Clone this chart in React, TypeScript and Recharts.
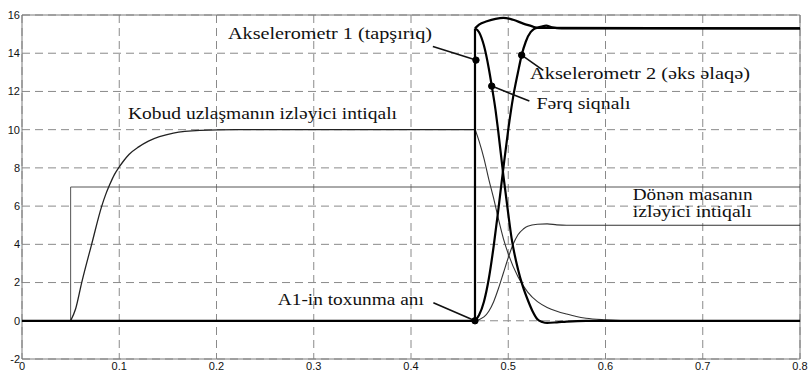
import React from 'react';
import {
  LineChart,
  Line,
  XAxis,
  YAxis,
  CartesianGrid,
  ReferenceArea,
  ReferenceDot,
  ReferenceLine,
} from 'recharts';

// ---------------------------------------------------------------------------
// Data (time, value)
// ---------------------------------------------------------------------------

type Pt = [number, number];

const X_TICKS = [0, 0.1, 0.2, 0.3, 0.4, 0.5, 0.6, 0.7, 0.8];
const Y_TICKS = [-2, 0, 2, 4, 6, 8, 10, 12, 14, 16];

// Kobud uzlaşmanın izləyici intiqalı
const kobudRise: Pt[] = [
  [0.05, 0], [0.055, 0.6], [0.0614, 2.0], [0.0716, 4.0], [0.082, 6.0], [0.086, 6.6], [0.09, 7.1],
  [0.095, 7.65], [0.1, 8.05], [0.105, 8.4], [0.11, 8.7], [0.12, 9.1], [0.13, 9.4], [0.1556, 9.82],
  [0.183, 9.96], [0.22, 10], [0.466, 10],
];
const kobudFall: Pt[] = [
  [0.466, 10], [0.47, 9.4], [0.475, 8.5], [0.48, 7.4], [0.485, 6.4], [0.49, 5.3], [0.495, 4.3],
  [0.5, 3.5], [0.51, 2.3], [0.52, 1.5], [0.53, 1.0], [0.54, 0.7], [0.55, 0.5], [0.56, 0.35],
  [0.57, 0.22], [0.58, 0.13], [0.6, 0.05], [0.63, 0], [0.8, 0],
];

// reference step at 7
const step7: Pt[] = [[0.05, 0], [0.05, 7], [0.8, 7]];

// Akselerometr 1 (tapşırıq)
const a1Step: Pt[] = [[0, 0], [0.4658, 0], [0.4658, 15.3]];
const a1Top: Pt[] = [
  [0.4658, 15.3], [0.47, 15.5], [0.478, 15.67], [0.487, 15.8], [0.495, 15.85], [0.505, 15.75],
  [0.5155, 15.55], [0.524, 15.42], [0.529, 15.34], [0.534, 15.4], [0.539, 15.44], [0.545, 15.35],
  [0.555, 15.3], [0.8, 15.3],
];

// Akselerometr 2 (əks əlaqə)
const a2: Pt[] = [
  [0.4658, 0], [0.47, 0.3], [0.475, 1.0], [0.48, 2.2], [0.485, 3.9], [0.49, 5.9], [0.495, 8.0],
  [0.5, 10.0], [0.505, 11.7], [0.51, 13.0], [0.5138, 13.9], [0.518, 14.6], [0.523, 15.1],
  [0.53, 15.33], [0.8, 15.3],
];

// Fərq siqnalı
const ferq: Pt[] = [
  [0.4658, 15.3], [0.47, 15.1], [0.475, 14.4], [0.48, 13.2], [0.483, 12.3], [0.487, 11.0],
  [0.4895, 10.0], [0.495, 7.6], [0.5, 5.6], [0.5035, 4.3], [0.51, 2.7], [0.515, 1.8],
  [0.52, 1.1], [0.525, 0.5], [0.53, 0.08], [0.535, -0.06], [0.54, -0.11], [0.55, -0.08],
  [0.56, -0.04], [0.58, 0], [0.8, 0],
];

// Dönən masanın izləyici intiqalı
const donen: Pt[] = [
  [0.4658, 0], [0.475, 0.2], [0.48, 0.5], [0.485, 1.0], [0.49, 1.7], [0.495, 2.5], [0.5, 3.3],
  [0.505, 4.0], [0.51, 4.5], [0.5155, 4.8], [0.52, 4.95], [0.53, 5.05], [0.54, 5.07],
  [0.55, 5.02], [0.56, 5.0], [0.8, 5.0],
];

// marker dots and their leader lines
const dots: Pt[] = [[0.4668, 13.64], [0.5138, 13.9], [0.483, 12.28], [0.4658, 0]];
const leaders: [Pt, Pt][] = [
  [[0.4225, 14.35], [0.4668, 13.64]],
  [[0.5138, 13.9], [0.536, 13.1]],
  [[0.483, 12.28], [0.5217, 11.5]],
  [[0.423, 0.94], [0.4658, 0]],
];

// text labels (left edge, vertical centre, text width in px)
const labels: { x: number; y: number; text: string; w: number }[] = [
  { x: 0.2118, y: 15.05, text: 'Akselerometr 1 (tapşırıq)', w: 204 },
  { x: 0.5224, y: 12.95, text: 'Akselerometr 2 (əks əlaqə)', w: 220 },
  { x: 0.529, y: 11.4, text: 'Fərq siqnalı', w: 94 },
  { x: 0.109, y: 10.85, text: 'Kobud uzlaşmanın izləyici intiqalı', w: 269 },
  { x: 0.628, y: 6.65, text: 'Dönən masanın', w: 120 },
  { x: 0.628, y: 5.72, text: 'izləyici intiqalı', w: 119 },
  { x: 0.263, y: 1.15, text: 'A1-in toxunma anı', w: 146 },
];

const toRows = (pts: Pt[]) => pts.map(([x, y]) => ({ x, y }));

const SERIF = "'Liberation Serif', 'Times New Roman', 'DejaVu Serif', serif";
const SANS = "'Liberation Sans', Arial, sans-serif";

const TextLabel = ({ viewBox, text, w }: any) => (
  <text
    x={viewBox.x}
    y={viewBox.y}
    dy="0.35em"
    fontFamily={SERIF}
    fontSize={17}
    textLength={w}
    lengthAdjust="spacingAndGlyphs"
    fill="#111"
  >
    {text}
  </text>
);

export default function App() {
  const thick = { stroke: '#000', strokeWidth: 2.2, dot: false, isAnimationActive: false } as const;

  return (
    <div style={{ position: 'absolute', left: 0, top: 0, background: '#fff' }}>
      <LineChart width={809} height={376} margin={{ top: 15, right: 9, bottom: 0, left: 0 }}>
        <CartesianGrid stroke="#8a8a8a" strokeDasharray="8 5" />
        <XAxis
          type="number"
          dataKey="x"
          domain={[0, 0.8]}
          ticks={X_TICKS}
          allowDataOverflow
          height={17}
          tickLine={false}
          axisLine={false}
          tickSize={0}
          tickMargin={3}
          tick={{ fontFamily: SANS, fontSize: 11, fill: '#111' }}
        />
        <YAxis
          type="number"
          dataKey="y"
          domain={[-2, 16]}
          ticks={Y_TICKS}
          allowDataOverflow
          width={22}
          tickLine={false}
          axisLine={false}
          tickSize={0}
          tickMargin={2}
          tick={{ fontFamily: SANS, fontSize: 11, fill: '#111' }}
        />
        <ReferenceArea x1={0} x2={0.8} y1={-2} y2={16} fill="none" stroke="#7a7a7a" strokeWidth={1} />

        <Line data={toRows(step7)} dataKey="y" type="linear" stroke="#555" strokeWidth={1} dot={false} isAnimationActive={false} />
        <Line data={toRows(kobudRise)} dataKey="y" type="monotone" stroke="#222" strokeWidth={1.3} dot={false} isAnimationActive={false} />
        <Line data={toRows(kobudFall)} dataKey="y" type="monotone" stroke="#333" strokeWidth={1.1} dot={false} isAnimationActive={false} />
        <Line data={toRows(donen)} dataKey="y" type="monotone" stroke="#333" strokeWidth={1.1} dot={false} isAnimationActive={false} />
        <Line data={toRows(a1Step)} dataKey="y" type="linear" {...thick} />
        <Line data={toRows(a1Top)} dataKey="y" type="monotone" {...thick} />
        <Line data={toRows(a2)} dataKey="y" type="monotone" {...thick} />
        <Line data={toRows(ferq)} dataKey="y" type="monotone" {...thick} />

        {leaders.map(([p, q], i) => (
          <ReferenceLine
            key={`ld-${i}`}
            segment={[{ x: p[0], y: p[1] }, { x: q[0], y: q[1] }]}
            stroke="#111"
            strokeWidth={1.6}
          />
        ))}
        {dots.map(([x, y], i) => (
          <ReferenceDot key={`dt-${i}`} x={x} y={y} r={3.2} fill="#000" stroke="#000" />
        ))}
        {labels.map((l, i) => (
          <ReferenceDot
            key={`lb-${i}`}
            x={l.x}
            y={l.y}
            r={0}
            fill="none"
            stroke="none"
            label={<TextLabel text={l.text} w={l.w} />}
          />
        ))}
      </LineChart>
    </div>
  );
}
